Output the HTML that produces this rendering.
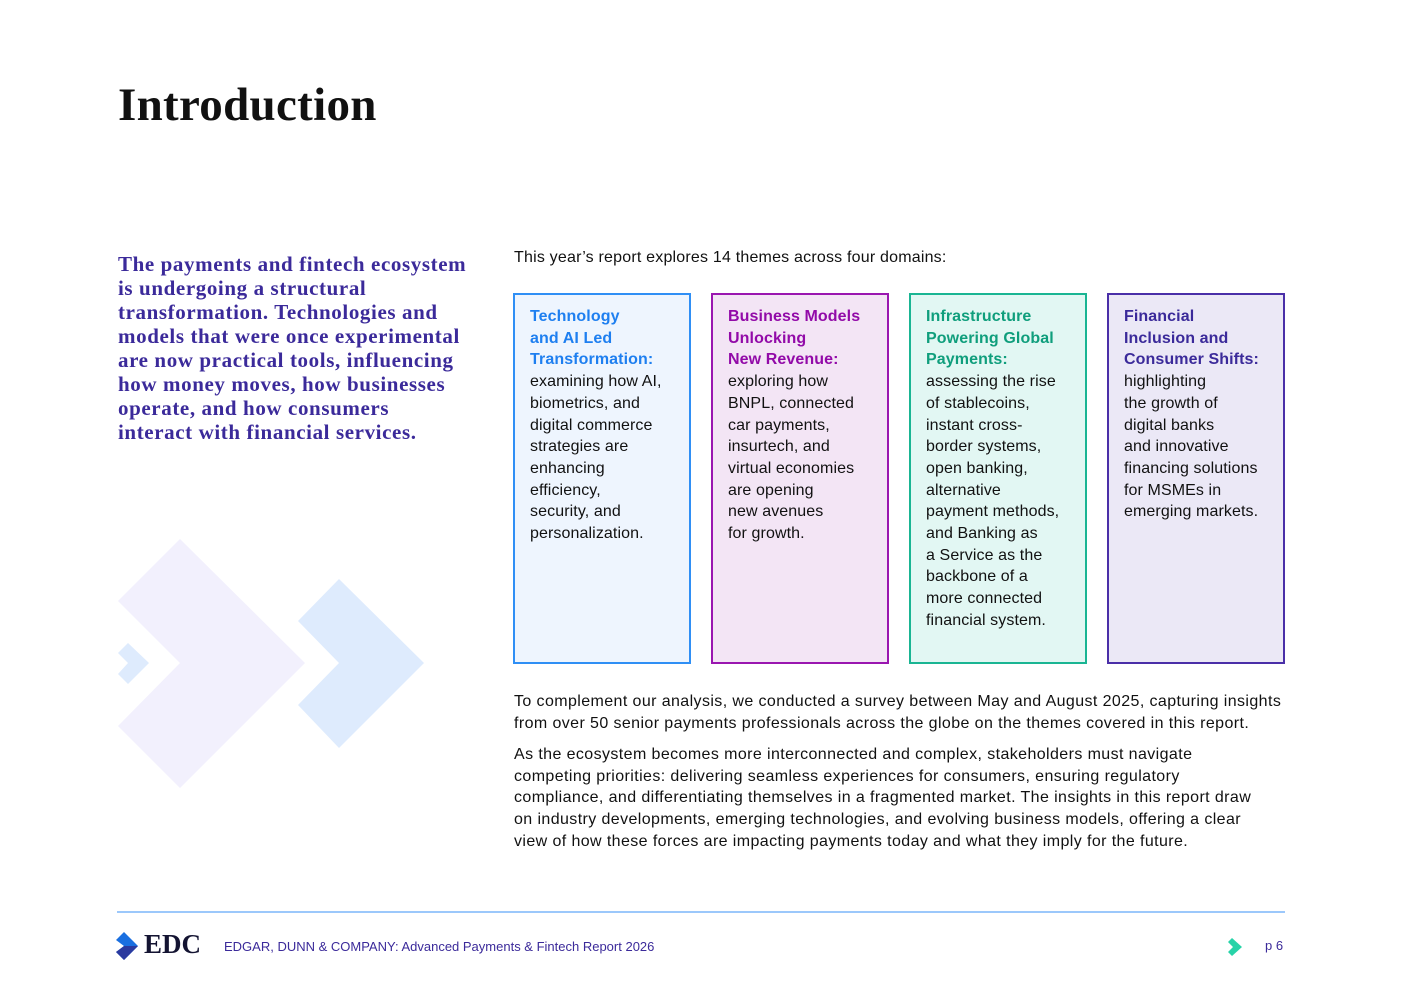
<!DOCTYPE html>
<html><head><meta charset="utf-8"><style>
body{margin:0;width:1403px;height:992px;background:#fff;position:relative;overflow:hidden;font-family:"Liberation Sans",sans-serif}
.a{position:absolute}
h1{position:absolute;left:118px;top:78px;margin:0;font:bold 47px "Liberation Serif",serif;color:#111;letter-spacing:0.3px}
.lead{left:118px;top:252px;white-space:nowrap;font:bold 21px/24px "Liberation Serif",serif;color:#3b2a9a;letter-spacing:0.6px}
.intro{left:514px;top:249px;font-size:16px;color:#111;letter-spacing:0.2px}
.box{position:absolute;top:293px;width:174px;height:367px;border:2px solid;box-sizing:content-box;padding:0}
.box div{position:absolute;left:15px;top:11px;white-space:nowrap;font-size:16px;line-height:21.7px;color:#111;letter-spacing:0.1px}
.p{left:514px;white-space:nowrap;font-size:16px;line-height:21.7px;color:#111;letter-spacing:0.4px}
</style></head><body>
<h1>Introduction</h1>
<div class="a lead">The payments and fintech ecosystem<br>is undergoing a structural<br>transformation. Technologies and<br>models that were once experimental<br>are now practical tools, influencing<br>how money moves, how businesses<br>operate, and how consumers<br>interact with financial services.</div>
<svg class="a" style="left:0;top:0" width="500" height="992">
<polygon points="118,601 180,539 305,663 180,788 118,726 180,663" fill="#f2f0fd"/>
<polygon points="298,621 339,579 424,663 339,748 298,705 339,663" fill="#deebfd"/>
<polygon points="118,653 128,643 149,663 128,684 118,674 128,663" fill="#deebfd"/>
</svg>
<div class="a intro">This year’s report explores 14 themes across four domains:</div>
<div class="box" style="left:513px;border-color:#2f8ff5;background:#eef5fe"><div><b style="color:#1e7ff0">Technology<br>and AI Led<br>Transformation:</b><br>examining how AI,<br>biometrics, and<br>digital commerce<br>strategies are<br>enhancing<br>efficiency,<br>security, and<br>personalization.</div></div>
<div class="box" style="left:711px;border-color:#9a16b0;background:#f3e5f5"><div><b style="color:#920aa8">Business Models<br>Unlocking<br>New Revenue:</b><br>exploring how<br>BNPL, connected<br>car payments,<br>insurtech, and<br>virtual economies<br>are opening<br>new avenues<br>for growth.</div></div>
<div class="box" style="left:909px;border-color:#1ab593;background:#e2f7f3"><div><b style="color:#0f9e7c">Infrastructure<br>Powering Global<br>Payments:</b><br>assessing the rise<br>of stablecoins,<br>instant cross-<br>border systems,<br>open banking,<br>alternative<br>payment methods,<br>and Banking as<br>a Service as the<br>backbone of a<br>more connected<br>financial system.</div></div>
<div class="box" style="left:1107px;border-color:#4a2fa8;background:#ebe8f6"><div><b style="color:#3b2a9a">Financial<br>Inclusion and<br>Consumer Shifts:</b><br>highlighting<br>the growth of<br>digital banks<br>and innovative<br>financing solutions<br>for MSMEs in<br>emerging markets.</div></div>
<div class="a p" style="top:691px">To complement our analysis, we conducted a survey between May and August 2025, capturing insights<br>from over 50 senior payments professionals across the globe on the themes covered in this report.</div>
<div class="a p" style="top:744px">As the ecosystem becomes more interconnected and complex, stakeholders must navigate<br>competing priorities: delivering seamless experiences for consumers, ensuring regulatory<br>compliance, and differentiating themselves in a fragmented market. The insights in this report draw<br>on industry developments, emerging technologies, and evolving business models, offering a clear<br>view of how these forces are impacting payments today and what they imply for the future.</div>
<div class="a" style="left:117px;top:911px;width:1168px;height:2px;background:#9cc8fb"></div>
<svg class="a" style="left:116px;top:932px" width="24" height="30"><polygon points="0,8 8,0 22,14 8,28 0,20 8,14" fill="#1a6fe0"/><polygon points="8,14 22,14 8,28 0,20" fill="#2b3a9f"/></svg>
<div class="a" style="left:144px;top:929px;font:bold 27px 'Liberation Serif',serif;color:#141432">EDC</div>
<div class="a" style="left:224px;top:939px;font-size:13px;color:#3b2a9a;letter-spacing:0px">EDGAR, DUNN &amp; COMPANY: Advanced Payments &amp; Fintech Report 2026</div>
<svg class="a" style="left:1228px;top:938px" width="16" height="20"><polygon points="0,4 4,0 14,9 4,18 0,14 5,9" fill="#27d3a8"/></svg>
<div class="a" style="left:1265px;top:938px;font-size:13px;color:#3b2a9a">p 6</div>
</body></html>
